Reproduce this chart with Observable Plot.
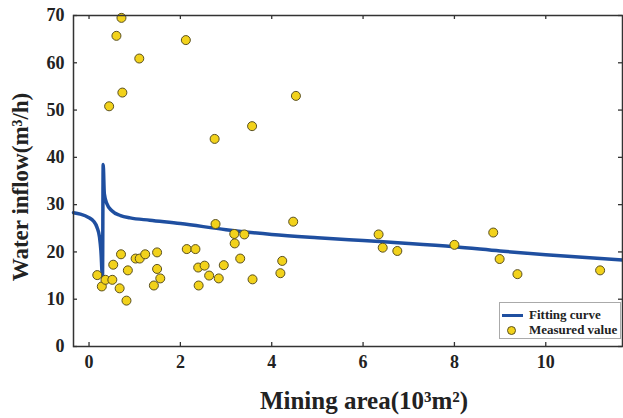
<!DOCTYPE html>
<html>
<head>
<meta charset="utf-8">
<script src="https://cdn.jsdelivr.net/npm/d3@7"></script>
<script src="https://cdn.jsdelivr.net/npm/@observablehq/plot@0.6"></script>
<style>
  html, body { margin: 0; padding: 0; background: #fff; }
  #wrap { position: relative; width: 623px; height: 418px; }
  #legend {
    position: absolute; left: 499px; top: 302px; width: 122px; height: 37px;
    border: 1px solid #aaa; background: #fff;
    font-family: "Liberation Serif", "Times New Roman", serif; font-weight: bold; font-size: 13px;
    color: #222; box-sizing: border-box; white-space: nowrap; line-height: 14px;
  }
  .row { position: absolute; left: 0; height: 14px; display: flex; align-items: center; white-space: nowrap; }
  .line { width: 21px; height: 3px; background: #1f4fa0; margin-left: 2px; margin-right: 6px; flex: none; }
  .dot { width: 9px; height: 9px; border-radius: 50%; background: #f2d21b; border: 1px solid #5a5020; box-sizing: border-box; margin-left: 7px; margin-right: 13px; flex: none; }
</style>
</head>
<body>
<div id="wrap">
  <div id="chart"></div>
  <div id="legend">
    <div class="row" style="top:5px"><div class="line"></div><span>Fitting curve</span></div>
    <div class="row" style="top:20px"><div class="dot"></div><span>Measured value</span></div>
  </div>
</div>
<script>
// Measured values (mining area, 10^3 m^2 ; water inflow, m^3/h)
const measuredArea = [
  0.71, 0.60, 1.10, 2.12, 0.73, 0.44, 2.75, 3.57, 4.53,
  0.18, 0.28, 0.36, 0.51, 0.53, 0.67, 0.70, 0.85, 0.82, 1.02, 1.11, 1.23,
  1.42, 1.49, 1.49, 1.56, 2.14, 2.33, 2.39, 2.40, 2.53, 2.63, 2.77, 2.84,
  2.95, 3.18, 3.19, 3.31, 3.40, 3.58, 4.19, 4.23, 4.47,
  6.34, 6.43, 6.75, 8.00, 8.85, 8.99, 9.38, 11.19
];
const measuredInflow = [
  69.5, 65.7, 60.9, 64.8, 53.7, 50.8, 43.9, 46.6, 53.0,
  15.1, 12.7, 14.1, 14.1, 17.3, 12.3, 19.5, 16.1, 9.7, 18.6, 18.6, 19.5,
  12.9, 19.9, 16.4, 14.4, 20.6, 20.6, 16.7, 12.9, 17.1, 15.0, 25.9, 14.4,
  17.2, 23.8, 21.8, 18.6, 23.7, 14.2, 15.5, 18.1, 26.4,
  23.7, 20.9, 20.2, 21.5, 24.1, 18.5, 15.3, 16.1
];

// Fitting curve
const curveArea = [
  -0.34, -0.19, -0.01, 0.10, 0.175, 0.23, 0.26, 0.295, 0.31, 0.335, 0.39, 0.50,
  0.69, 0.90, 1.33, 2.0, 3.0, 4.0, 5.0, 6.0, 7.0, 8.0, 9.0, 10.0, 11.68
];
const curveInflow = [
  28.3, 28.0, 27.3, 26.5, 25.2, 23.1, 20.3, 14.6, 38.5, 32.3, 30.2, 28.7,
  27.7, 27.2, 26.7, 26.0, 24.7, 23.7, 23.0, 22.4, 21.8, 21.1, 20.2, 19.4, 18.3
];

const xTicks = [0, 2, 4, 6, 8, 10];
const yTicks = [0, 10, 20, 30, 40, 50, 60, 70];
const xTitle = "Mining area(10³m²)";
const yTitle = "Water inflow(m³/h)";

const measured = measuredArea.map((x, i) => ({x, y: measuredInflow[i]}));
const curve = curveArea.map((x, i) => ({x, y: curveInflow[i]}));

const W = 623, H = 418, mL = 73, mR = 1, mT = 15, mB = 72;
const fw = W - mL - mR, fh = H - mT - mB;

const chart = Plot.plot({
  width: W, height: H,
  marginLeft: mL, marginRight: mR, marginTop: mT, marginBottom: mB,
  style: {fontFamily: "'Liberation Serif', 'Times New Roman', serif", fontSize: "18px", fontWeight: "bold", color: "#222", background: "#fff"},
  x: {domain: [-0.34, 11.68]},
  y: {domain: [0, 70]},
  marks: [
    Plot.axisX({ticks: xTicks, tickSize: 0, tickPadding: 9, label: null, tickFormat: d3.format("d")}),
    Plot.axisY({ticks: yTicks, tickSize: 0, tickPadding: 9, label: null, tickFormat: d3.format("d")}),
    Plot.tickX(xTicks, {x: d => d, insetTop: fh - 4, stroke: "#333", strokeWidth: 1.3}),
    Plot.tickX(xTicks, {x: d => d, insetBottom: fh - 4, stroke: "#333", strokeWidth: 1.3}),
    Plot.tickY(yTicks, {y: d => d, insetRight: fw - 4, stroke: "#333", strokeWidth: 1.3}),
    Plot.tickY(yTicks, {y: d => d, insetLeft: fw - 4, stroke: "#333", strokeWidth: 1.3}),
    Plot.line(curve, {x: "x", y: "y", stroke: "#1f4fa0", strokeWidth: 3.5, curve: "monotone-x"}),
    Plot.dot(measured, {x: "x", y: "y", r: 4.5, fill: "#f2d21b", stroke: "#5a5020", strokeWidth: 1}),
    Plot.frame({stroke: "#333", strokeWidth: 1.5}),
    Plot.text([xTitle], {frameAnchor: "bottom", textAnchor: "middle", lineAnchor: "middle", dx: 16, dy: 54, fontSize: 25, fontWeight: "bold", fill: "#222"}),
    Plot.text([yTitle], {frameAnchor: "left", textAnchor: "middle", lineAnchor: "middle", rotate: -90, dx: -53, dy: 6, fontSize: 23, fontWeight: "bold", fill: "#222"})
  ]
});
document.getElementById("chart").appendChild(chart);
</script>
</body>
</html>
